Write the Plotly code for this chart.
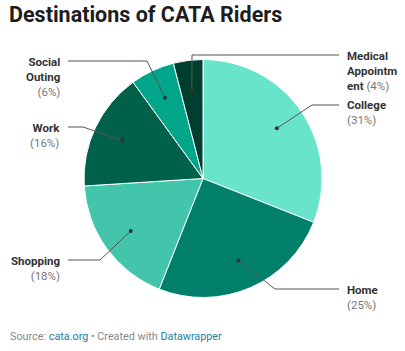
import math
import plotly.graph_objects as go

categories = ["College", "Home", "Shopping", "Work", "Social Outing", "Medical Appointment"]
values = [31, 25, 18, 16, 6, 4]
colors = ["#67e4c9", "#00806a", "#42c5aa", "#00614b", "#00a58a", "#003f30"]
label_html = ["<b>College</b>", "<b>Home</b>", "<b>Shopping</b>", "<b>Work</b>",
              "<b>Social<br>Outing</b>", "<b>Medical<br>Appointm<br>ent</b>"]

W, H = 405, 351
CX, CY, R = 203, 178.5, 119

# label layout: side, elbow (px), label x, first-line y
layout_pos = {
    "College": ("right", (312, 105), 339, 104),
    "Home": ("right", (275, 289), 339, 289),
    "Shopping": ("left", (100, 260), 68, 260),
    "Work": ("left", (83, 127), 68, 127),
    "Social Outing": ("left", (147, 61), 68, 61),
    "Medical Appointment": ("right", (192, 55), 339, 55),
}

def px(x, y):
    return x / W, 1 - y / H

fig = go.Figure(go.Pie(
    labels=categories, values=values, sort=False, direction="clockwise", rotation=0,
    marker=dict(colors=colors, line=dict(color="white", width=1)),
    textinfo="none", hoverinfo="label+percent", showlegend=False,
    domain=dict(x=[(CX - R) / W, (CX + R) / W], y=[1 - (CY + R) / H, 1 - (CY - R) / H]),
))

shapes, annotations = [], []
total = sum(values)
cum = 0
for cat, v, lab in zip(categories, values, label_html):
    mid = (cum + v / 2) / total * 2 * math.pi
    cum += v
    dx, dy = CX + 0.75 * R * math.sin(mid), CY - 0.75 * R * math.cos(mid)
    side, (ex, ey), lx, ly = layout_pos[cat]
    pts = [(dx, dy), (ex, ey), (lx, ey)]
    path = "M " + " L ".join(f"{px(a,b)[0]},{px(a,b)[1]}" for a, b in pts)
    shapes.append(dict(type="path", path=path, xref="paper", yref="paper",
                       line=dict(color="#555555", width=1)))
    shapes.append(dict(type="circle", xref="paper", yref="paper",
                       x0=(dx - 2) / W, x1=(dx + 2) / W, y0=1 - (dy + 2) / H, y1=1 - (dy - 2) / H,
                       fillcolor="#333333", line=dict(width=0)))
    pct = f"<span style='color:#777777'>({round(v / total * 100)}%)</span>"
    text = lab + (" " + pct if cat == "Medical Appointment" else "<br>" + pct)
    if side == "right":
        annotations.append(dict(x=(lx + 6) / W, y=1 - (ly - 8) / H, xref="paper", yref="paper",
                                text=text, showarrow=False, xanchor="left", yanchor="top",
                                align="left", font=dict(family="Roboto", size=11.5, color="#333333")))
    else:
        annotations.append(dict(x=(lx - 6) / W, y=1 - (ly - 8) / H, xref="paper", yref="paper",
                                text=text, showarrow=False, xanchor="right", yanchor="top",
                                align="right", font=dict(family="Roboto", size=11.5, color="#333333")))

annotations.append(dict(x=7 / W, y=1 - 15 / H, xref="paper", yref="paper",
                        text="<b>Destinations of CATA Riders</b>", showarrow=False,
                        xanchor="left", yanchor="middle",
                        font=dict(family="Roboto", size=21.5, color="#1d1d1d")))
annotations.append(dict(x=8 / W, y=1 - 336 / H, xref="paper", yref="paper",
                        text="Source: <span style='color:#1d81a2'>cata.org</span> • Created with "
                             "<span style='color:#1d81a2'>Datawrapper</span>",
                        showarrow=False, xanchor="left", yanchor="middle",
                        font=dict(family="Roboto", size=10.8, color="#888888")))

fig.update_layout(width=W, height=H, margin=dict(l=0, r=0, t=0, b=0),
                  paper_bgcolor="white", plot_bgcolor="white",
                  shapes=shapes, annotations=annotations)
fig.write_html("out.html")
